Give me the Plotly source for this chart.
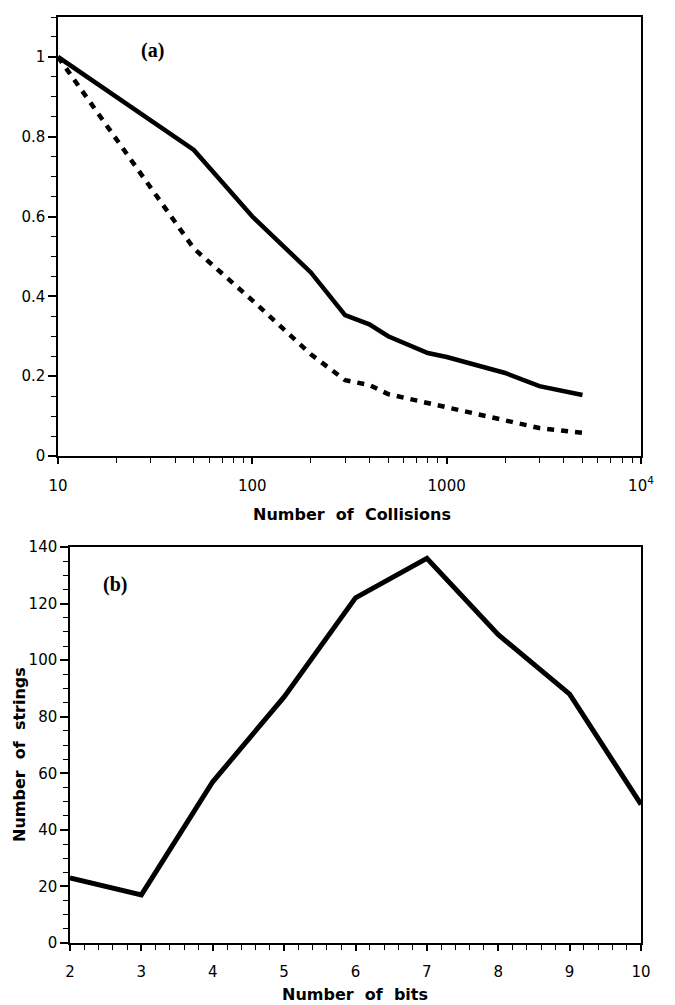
import plotly.graph_objects as go

# ---- Data (a) ----
collisions = [10, 50, 100, 200, 300, 400, 500, 800, 1000, 2000, 3000, 5000]
solid_vals = [1.0, 0.767, 0.60, 0.46, 0.353, 0.33, 0.30, 0.258, 0.248, 0.208, 0.175, 0.153]
dashed_vals = [1.0, 0.52, 0.39, 0.255, 0.19, 0.178, 0.155, 0.133, 0.123, 0.09, 0.07, 0.058]
a_xticks = [10, 100, 1000, 10000]
a_xticktext = ["10", "100", "1000", "10<sup>4</sup>"]
a_yticks = [0, 0.2, 0.4, 0.6, 0.8, 1.0]
a_yticktext = ["0", "0.2", "0.4", "0.6", "0.8", "1"]

# ---- Data (b) ----
bits = [2, 3, 4, 5, 6, 7, 8, 9, 10]
strings = [23, 17, 57, 87, 122, 136, 109, 88, 49]

# page body has an 8px margin; size the figure to fit the 675x1005 window
OFF = 8
W, H = 675 - OFF, 1005 - OFF
def px_x(p): return (p - OFF) / W
def px_y(p): return 1 - (p - OFF) / H

tickfont = dict(family="DejaVu Sans", size=15, color="black")
titlefont = dict(family="DejaVu Sans", size=16, color="black", weight="bold")

fig = go.Figure()
fig.add_trace(go.Scatter(x=collisions, y=solid_vals, mode="lines",
                         line=dict(color="black", width=4.5),
                         xaxis="x", yaxis="y", showlegend=False))
fig.add_trace(go.Scatter(x=collisions, y=dashed_vals, mode="lines",
                         line=dict(color="black", width=4.5, dash="7px,7px"),
                         xaxis="x", yaxis="y", showlegend=False))
fig.add_trace(go.Scatter(x=bits, y=strings, mode="lines",
                         line=dict(color="black", width=5),
                         xaxis="x2", yaxis="y2", showlegend=False))

axis_common = dict(showline=True, linecolor="black", linewidth=1.5, mirror=True,
                   showgrid=False, zeroline=False, ticks="outside",
                   tickcolor="black", tickwidth=1.5, tickfont=tickfont,
                   automargin=False)

fig.update_layout(
    width=W, height=H,
    margin=dict(l=0, r=0, t=0, b=0),
    paper_bgcolor="white", plot_bgcolor="white",
    xaxis=dict(**axis_common, type="log", range=[1, 4],
               domain=[px_x(58), px_x(641)], anchor="y",
               tickvals=a_xticks, ticktext=a_xticktext, ticklen=6,
               ticklabelstandoff=9,
               minor=dict(ticks="outside", ticklen=5, tickcolor="black",
                          tickwidth=1.2, dtick="D1", showgrid=False)),
    yaxis=dict(**axis_common, range=[0, 1.1],
               domain=[px_y(456), px_y(17)], anchor="x",
               tickvals=a_yticks, ticktext=a_yticktext, ticklen=8,
               minor=dict(ticks="outside", ticklen=5, tickcolor="black",
                          tickwidth=1.2, dtick=0.05, showgrid=False)),
    xaxis2=dict(**axis_common, range=[2, 10],
                domain=[px_x(70), px_x(641)], anchor="y2",
                dtick=1, ticklen=6, ticklabelstandoff=8,
                minor=dict(ticks="outside", ticklen=5, tickcolor="black",
                           tickwidth=1.2, dtick=0.2, showgrid=False)),
    yaxis2=dict(**axis_common, range=[0, 140],
                domain=[px_y(943), px_y(547)], anchor="x2",
                dtick=20, ticklen=8,
                minor=dict(ticks="outside", ticklen=5, tickcolor="black",
                           tickwidth=1.2, dtick=5, showgrid=False)),
)

annotations = [
    dict(text="Number\u00a0 of\u00a0 Collisions", x=px_x(352), y=px_y(514),
         font=titlefont),
    dict(text="Number\u00a0 of\u00a0 bits", x=px_x(355), y=px_y(994),
         font=titlefont),
    dict(text="Number\u00a0 of\u00a0 strings", x=px_x(19), y=px_y(755),
         font=titlefont, textangle=-90),
    dict(text="(a)", x=px_x(152), y=px_y(50),
         font=dict(family="Liberation Serif", size=20, color="black", weight="bold")),
    dict(text="(b)", x=px_x(115), y=px_y(584),
         font=dict(family="Liberation Serif", size=20, color="black", weight="bold")),
]
for a in annotations:
    a.update(xref="paper", yref="paper", showarrow=False,
             xanchor="center", yanchor="middle")
fig.update_layout(annotations=annotations)

fig.write_html("out.html")
